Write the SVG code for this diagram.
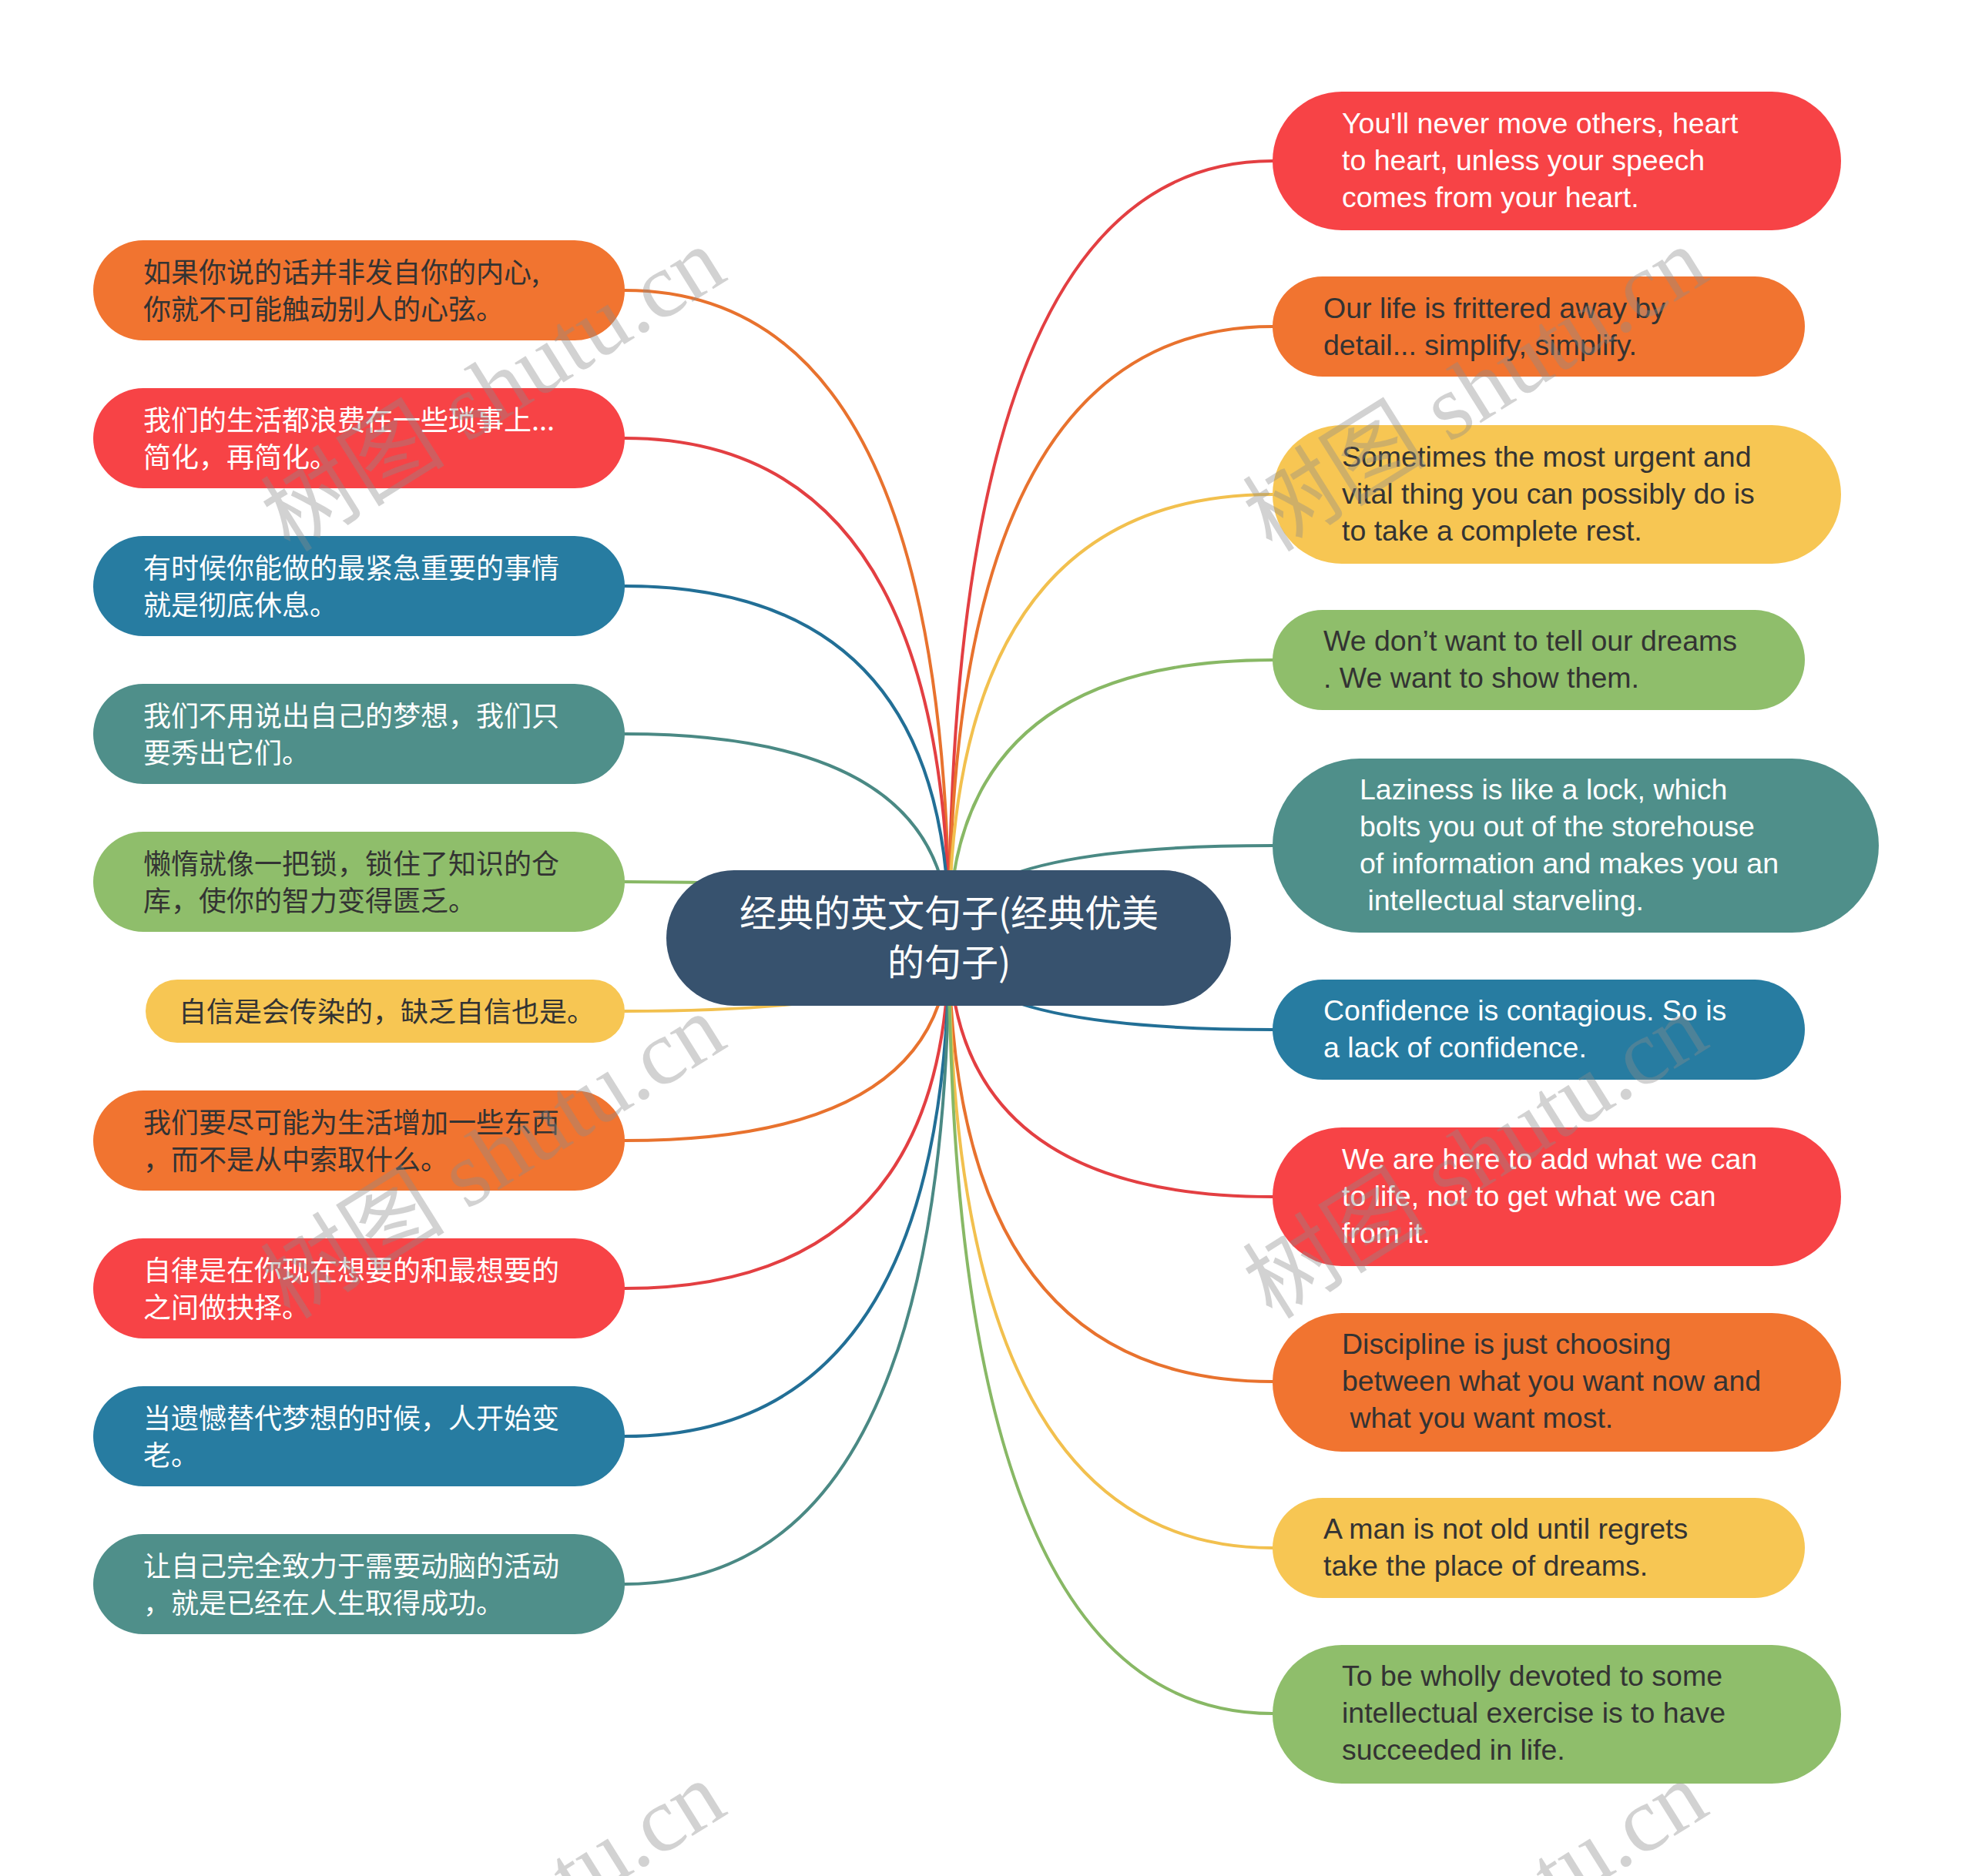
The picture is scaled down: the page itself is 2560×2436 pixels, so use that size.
<svg xmlns="http://www.w3.org/2000/svg" width="2560" height="2436" viewBox="0 0 2560 2436">
<style>
.ln{fill:none;stroke-width:4;stroke-linecap:round}
.cn{font-family:"Noto Sans CJK SC","Noto Sans",sans-serif;font-size:36px}
.en{font-family:"Liberation Sans",Arial,sans-serif;font-size:37.5px}
.dk{fill:#333333}
.wt{fill:#ffffff}
.wm{font-family:"Liberation Serif","Noto Sans CJK SC",serif;font-size:120px;fill:#8c8c8c;opacity:0.38;text-anchor:middle}
</style>
<rect width="2560" height="2436" fill="#ffffff"/>
<g id="connectors">
<path class="ln" stroke="#e8722e" d="M1232,1218 Q1232,377 811,377"/>
<path class="ln" stroke="#e33f42" d="M1232,1218 Q1232,569 811,569"/>
<path class="ln" stroke="#226f96" d="M1232,1218 Q1232,761 811,761"/>
<path class="ln" stroke="#4a8984" d="M1232,1218 Q1232,953 811,953"/>
<path class="ln" stroke="#88b865" d="M1232,1218 Q1232,1145 811,1145"/>
<path class="ln" stroke="#f2c04e" d="M1232,1218 Q1232,1313 811,1313"/>
<path class="ln" stroke="#e8722e" d="M1232,1218 Q1232,1481 811,1481"/>
<path class="ln" stroke="#e33f42" d="M1232,1218 Q1232,1673 811,1673"/>
<path class="ln" stroke="#226f96" d="M1232,1218 Q1232,1865 811,1865"/>
<path class="ln" stroke="#4a8984" d="M1232,1218 Q1232,2057 811,2057"/>
<path class="ln" stroke="#e33f42" d="M1232,1218 Q1232,209 1652,209"/>
<path class="ln" stroke="#e8722e" d="M1232,1218 Q1232,424 1652,424"/>
<path class="ln" stroke="#f2c04e" d="M1232,1218 Q1232,642 1652,642"/>
<path class="ln" stroke="#88b865" d="M1232,1218 Q1232,857 1652,857"/>
<path class="ln" stroke="#4a8984" d="M1232,1218 Q1232,1098 1652,1098"/>
<path class="ln" stroke="#226f96" d="M1232,1218 Q1232,1337 1652,1337"/>
<path class="ln" stroke="#e33f42" d="M1232,1218 Q1232,1554 1652,1554"/>
<path class="ln" stroke="#e8722e" d="M1232,1218 Q1232,1794 1652,1794"/>
<path class="ln" stroke="#f2c04e" d="M1232,1218 Q1232,2010 1652,2010"/>
<path class="ln" stroke="#88b865" d="M1232,1218 Q1232,2225 1652,2225"/>
</g>
<g id="root">
<rect x="865" y="1130" width="733" height="176" rx="88" fill="#37526e"/>
<text class="wt" font-family="Noto Sans CJK SC, sans-serif" font-size="48" text-anchor="middle"><tspan x="1232" y="1203">经典的英文句子(经典优美</tspan><tspan x="1232" y="1267">的句子)</tspan></text>
</g>
<g id="left1"><rect x="121" y="312" width="690" height="130" rx="65" fill="#f17430"/>
<text class="cn dk"><tspan x="186" y="367">如果你说的话并非发自你的内心,</tspan><tspan x="186" y="415">你就不可能触动别人的心弦。</tspan></text></g>
<g id="left2"><rect x="121" y="504" width="690" height="130" rx="65" fill="#f74346"/>
<text class="cn wt"><tspan x="186" y="559">我们的生活都浪费在一些琐事上...</tspan><tspan x="186" y="607">简化，再简化。</tspan></text></g>
<g id="left3"><rect x="121" y="696" width="690" height="130" rx="65" fill="#277ca1"/>
<text class="cn wt"><tspan x="186" y="751">有时候你能做的最紧急重要的事情</tspan><tspan x="186" y="799">就是彻底休息。</tspan></text></g>
<g id="left4"><rect x="121" y="888" width="690" height="130" rx="65" fill="#4f8f8a"/>
<text class="cn wt"><tspan x="186" y="943">我们不用说出自己的梦想，我们只</tspan><tspan x="186" y="991">要秀出它们。</tspan></text></g>
<g id="left5"><rect x="121" y="1080" width="690" height="130" rx="65" fill="#8fbe6b"/>
<text class="cn dk"><tspan x="186" y="1135">懒惰就像一把锁，锁住了知识的仓</tspan><tspan x="186" y="1183">库，使你的智力变得匮乏。</tspan></text></g>
<g id="left6"><rect x="189" y="1272" width="622" height="82" rx="41" fill="#f7c653"/>
<text class="cn dk" x="232" y="1327">自信是会传染的，缺乏自信也是。</text></g>
<g id="left7"><rect x="121" y="1416" width="690" height="130" rx="65" fill="#f17430"/>
<text class="cn dk"><tspan x="186" y="1471">我们要尽可能为生活增加一些东西</tspan><tspan x="186" y="1519">，而不是从中索取什么。</tspan></text></g>
<g id="left8"><rect x="121" y="1608" width="690" height="130" rx="65" fill="#f74346"/>
<text class="cn wt"><tspan x="186" y="1663">自律是在你现在想要的和最想要的</tspan><tspan x="186" y="1711">之间做抉择。</tspan></text></g>
<g id="left9"><rect x="121" y="1800" width="690" height="130" rx="65" fill="#277ca1"/>
<text class="cn wt"><tspan x="186" y="1855">当遗憾替代梦想的时候，人开始变</tspan><tspan x="186" y="1903">老。</tspan></text></g>
<g id="left10"><rect x="121" y="1992" width="690" height="130" rx="65" fill="#4f8f8a"/>
<text class="cn wt"><tspan x="186" y="2047">让自己完全致力于需要动脑的活动</tspan><tspan x="186" y="2095">，就是已经在人生取得成功。</tspan></text></g>
<g id="right1"><rect x="1652" y="119" width="738" height="180" rx="90" fill="#f74346"/>
<text class="en wt"><tspan x="1742" y="173">You'll never move others, heart</tspan><tspan x="1742" y="221">to heart, unless your speech</tspan><tspan x="1742" y="269">comes from your heart.</tspan></text></g>
<g id="right2"><rect x="1652" y="359" width="691" height="130" rx="65" fill="#f17430"/>
<text class="en dk"><tspan x="1718" y="413">Our life is frittered away by</tspan><tspan x="1718" y="461">detail... simplify, simplify.</tspan></text></g>
<g id="right3"><rect x="1652" y="552" width="738" height="180" rx="90" fill="#f7c653"/>
<text class="en dk"><tspan x="1742" y="606">Sometimes the most urgent and</tspan><tspan x="1742" y="654">vital thing you can possibly do is</tspan><tspan x="1742" y="702">to take a complete rest.</tspan></text></g>
<g id="right4"><rect x="1652" y="792" width="691" height="130" rx="65" fill="#8fbe6b"/>
<text class="en dk"><tspan x="1718" y="845">We don’t want to tell our dreams</tspan><tspan x="1718" y="893">. We want to show them.</tspan></text></g>
<g id="right5"><rect x="1652" y="985" width="787" height="226" rx="113" fill="#4f8f8a"/>
<text class="en wt" xml:space="preserve"><tspan x="1765" y="1038">Laziness is like a lock, which</tspan><tspan x="1765" y="1086">bolts you out of the storehouse</tspan><tspan x="1765" y="1134">of information and makes you an</tspan><tspan x="1765" y="1182"> intellectual starveling.</tspan></text></g>
<g id="right6"><rect x="1652" y="1272" width="691" height="130" rx="65" fill="#277ca1"/>
<text class="en wt"><tspan x="1718" y="1325">Confidence is contagious. So is</tspan><tspan x="1718" y="1373">a lack of confidence.</tspan></text></g>
<g id="right7"><rect x="1652" y="1464" width="738" height="180" rx="90" fill="#f74346"/>
<text class="en wt"><tspan x="1742" y="1518">We are here to add what we can</tspan><tspan x="1742" y="1566">to life, not to get what we can</tspan><tspan x="1742" y="1614">from it.</tspan></text></g>
<g id="right8"><rect x="1652" y="1705" width="738" height="180" rx="90" fill="#f17430"/>
<text class="en dk" xml:space="preserve"><tspan x="1742" y="1758">Discipline is just choosing</tspan><tspan x="1742" y="1806">between what you want now and</tspan><tspan x="1742" y="1854"> what you want most.</tspan></text></g>
<g id="right9"><rect x="1652" y="1945" width="691" height="130" rx="65" fill="#f7c653"/>
<text class="en dk"><tspan x="1718" y="1998">A man is not old until regrets</tspan><tspan x="1718" y="2046">take the place of dreams.</tspan></text></g>
<g id="right10"><rect x="1652" y="2136" width="738" height="180" rx="90" fill="#8fbe6b"/>
<text class="en dk"><tspan x="1742" y="2189">To be wholly devoted to some</tspan><tspan x="1742" y="2237">intellectual exercise is to have</tspan><tspan x="1742" y="2285">succeeded in life.</tspan></text></g>
<g id="watermarks">
<text class="wm" transform="translate(662,540) rotate(-32)">树图 shutu.cn</text>
<text class="wm" transform="translate(1937,540) rotate(-32)">树图 shutu.cn</text>
<text class="wm" transform="translate(662,1536) rotate(-32)">树图 shutu.cn</text>
<text class="wm" transform="translate(1937,1536) rotate(-32)">树图 shutu.cn</text>
<text class="wm" transform="translate(662,2532) rotate(-32)">树图 shutu.cn</text>
<text class="wm" transform="translate(1937,2532) rotate(-32)">树图 shutu.cn</text>
</g>
</svg>
